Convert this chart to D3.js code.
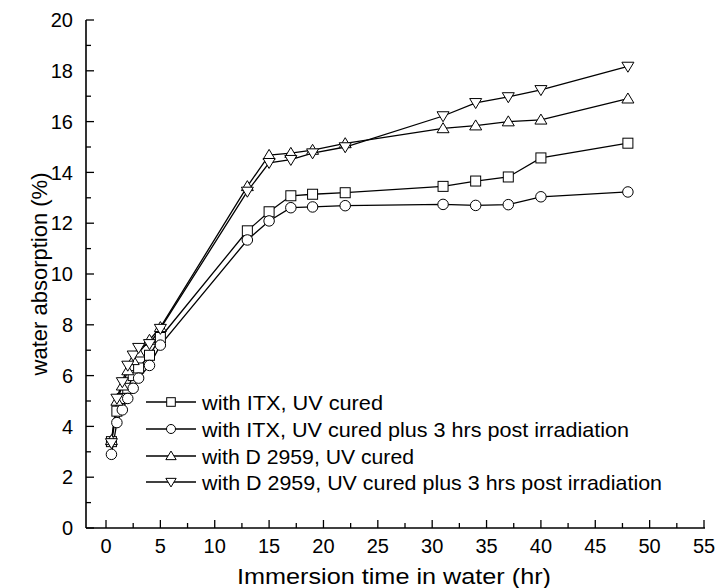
<!DOCTYPE html>
<html>
<head>
<meta charset="utf-8">
<script src="https://cdn.jsdelivr.net/npm/d3@7"></script>
<style>
  body { margin: 0; background: #fff; }
  text { font-family: "Liberation Sans", Arial, sans-serif; fill: #000; }
</style>
</head>
<body>
<svg id="chart" width="717" height="588"></svg>
<script>
// immersion time (hr)
var times = [0.5, 1, 1.5, 2, 2.5, 3, 4, 5, 13, 15, 17, 19, 22, 31, 34, 37, 40, 48];

// water absorption (%)
var itxUv = [3.4, 4.6, 5.1, 5.5, 6.0, 6.3, 6.8, 7.5, 11.7, 12.45, 13.08, 13.14, 13.2, 13.45, 13.66, 13.82, 14.57, 15.15];
var itxPost = [2.9, 4.15, 4.65, 5.1, 5.5, 5.9, 6.4, 7.2, 11.34, 12.09, 12.61, 12.64, 12.69, 12.74, 12.7, 12.73, 13.04, 13.23];
var d2959Uv = [3.45, 5.0, 5.6, 6.2, 6.6, 6.9, 7.4, 7.9, 13.45, 14.68, 14.76, 14.88, 15.14, 15.73, 15.84, 16.0, 16.07, 16.9];
var d2959Post = [3.35, 5.1, 5.75, 6.4, 6.8, 7.1, 7.25, 7.85, 13.25, 14.38, 14.5, 14.76, 15.0, 16.22, 16.74, 16.97, 17.25, 18.17];

var seriesNames = [
    "with ITX, UV cured",
    "with ITX, UV cured plus 3 hrs post irradiation",
    "with D 2959, UV cured",
    "with D 2959, UV cured plus 3 hrs post irradiation"
];
var xTicks = [0, 5, 10, 15, 20, 25, 30, 35, 40, 45, 50, 55];
var yTicks = [0, 2, 4, 6, 8, 10, 12, 14, 16, 18, 20];

(function () {
    var svg = d3.select("#chart");
    var left = 86, right = 704, top = 20, bottom = 528;

    var x = d3.scaleLinear().domain([-1.84, 55]).range([left, right]);
    var y = d3.scaleLinear().domain([0, 20]).range([bottom, top]);

    var series = [
        { name: seriesNames[0], values: itxUv, shape: "square", legW: 181 },
        { name: seriesNames[1], values: itxPost, shape: "circle", legW: 427 },
        { name: seriesNames[2], values: d2959Uv, shape: "up", legW: 212 },
        { name: seriesNames[3], values: d2959Post, shape: "down", legW: 460 }
    ];

    function marker(g, shape, s) {
        // s = half size
        var p;
        if (shape === "square") {
            p = g.append("rect").attr("x", -s).attr("y", -s).attr("width", 2 * s).attr("height", 2 * s);
        } else if (shape === "circle") {
            p = g.append("circle").attr("r", s * 1.05);
        } else if (shape === "up") {
            p = g.append("path").attr("d", "M0," + (-s * 1.15) + "L" + (s * 1.2) + "," + (s * 0.85) + "L" + (-s * 1.2) + "," + (s * 0.85) + "Z");
        } else {
            p = g.append("path").attr("d", "M0," + (s * 1.15) + "L" + (s * 1.2) + "," + (-s * 0.85) + "L" + (-s * 1.2) + "," + (-s * 0.85) + "Z");
        }
        p.attr("fill", "#fff").attr("stroke", "#000").attr("stroke-width", 1);
    }

    // axes lines
    svg.append("line").attr("x1", left).attr("x2", left).attr("y1", top).attr("y2", bottom)
        .attr("stroke", "#000").attr("stroke-width", 1.6);
    svg.append("line").attr("x1", left).attr("x2", right + 1).attr("y1", bottom).attr("y2", bottom)
        .attr("stroke", "#000").attr("stroke-width", 1.6);

    // y ticks (inward)
    d3.range(0, 20.5, 1).forEach(function (v) {
        var major = v % 2 === 0;
        svg.append("line").attr("x1", left).attr("x2", left + (major ? 8 : 5))
            .attr("y1", y(v)).attr("y2", y(v)).attr("stroke", "#000").attr("stroke-width", 1.3);
    });
    yTicks.forEach(function (v) {
        svg.append("text").attr("x", left - 13).attr("y", y(v)).attr("dy", "0.36em")
            .attr("text-anchor", "end").attr("font-size", 20).text(v);
    });

    // x ticks (inward)
    d3.range(0, 55.1, 2.5).forEach(function (v) {
        var major = v % 5 === 0;
        svg.append("line").attr("x1", x(v)).attr("x2", x(v))
            .attr("y1", bottom).attr("y2", bottom - (major ? 8 : 5)).attr("stroke", "#000").attr("stroke-width", 1.3);
    });
    xTicks.forEach(function (v) {
        svg.append("text").attr("x", x(v)).attr("y", 553)
            .attr("text-anchor", "middle").attr("font-size", 20).text(v);
    });

    // axis titles
    svg.append("text").attr("x", 237).attr("y", 584)
        .attr("font-size", 22).attr("textLength", 314).attr("lengthAdjust", "spacingAndGlyphs")
        .text("Immersion time in water (hr)");
    svg.append("text").attr("transform", "translate(47," + y(10) + ") rotate(-90)")
        .attr("text-anchor", "middle").attr("font-size", 22).text("water absorption (%)");

    var line = d3.line()
        .x(function (d, i) { return x(times[i]); })
        .y(function (d) { return y(d); });

    series.forEach(function (s) {
        svg.append("path").attr("d", line(s.values)).attr("fill", "none")
            .attr("stroke", "#000").attr("stroke-width", 1.3);
    });
    series.forEach(function (s) {
        s.values.forEach(function (v, i) {
            var g = svg.append("g").attr("transform", "translate(" + x(times[i]) + "," + y(v) + ")");
            marker(g, s.shape, 5);
        });
    });

    // legend
    var legY = [402, 429, 456, 482];
    series.forEach(function (s, i) {
        var g = svg.append("g").attr("transform", "translate(146," + legY[i] + ")");
        g.append("line").attr("x1", 0).attr("x2", 50).attr("stroke", "#000").attr("stroke-width", 1.3);
        var m = g.append("g").attr("transform", "translate(25,0)");
        marker(m, s.shape, 4.3);
        g.append("text").attr("x", 56).attr("dy", "0.36em").attr("font-size", 21)
            .attr("textLength", s.legW).attr("lengthAdjust", "spacingAndGlyphs").text(s.name);
    });
})();
</script>
</body>
</html>
